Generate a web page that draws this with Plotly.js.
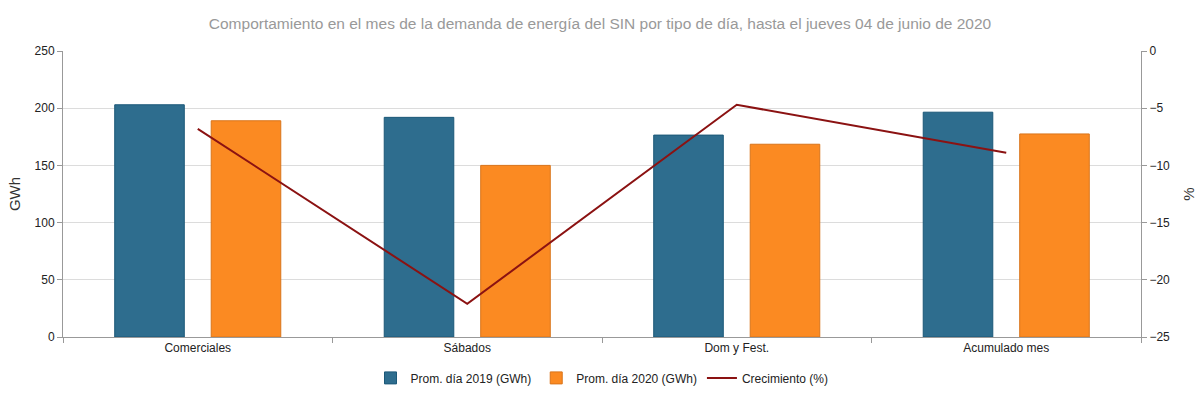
<!DOCTYPE html>
<html>
<head>
<meta charset="utf-8">
<script src="https://cdn.plot.ly/plotly-3.0.1.min.js"></script>
<style>html,body{margin:0;padding:0;background:#fff;}#chart{width:1200px;height:400px;}</style>
</head>
<body>
<div id="chart"></div>
<script>
const categories = ["Comerciales", "Sábados", "Dom y Fest.", "Acumulado mes"];
const prom2019 = [203, 192, 176.5, 196.5];
const prom2020 = [189, 150, 168.5, 177.5];
const crecimiento = [-6.8, -22.1, -4.7, -8.9];
const seriesNames = ["Prom. día 2019 (GWh)", "Prom. día 2020 (GWh)", "Crecimiento (%)"];

const font = "Liberation Sans, Arial, sans-serif";

const traces = [
  {
    type: "bar", x: categories, y: prom2019, name: seriesNames[0],
    marker: {color: "#2e6d8e", line: {color: "#1b5878", width: 1}},
    hoverinfo: "y"
  },
  {
    type: "bar", x: categories, y: prom2020, name: seriesNames[1],
    marker: {color: "#fb8a22", line: {color: "#d9741a", width: 1}},
    hoverinfo: "y"
  },
  {
    type: "scatter", mode: "lines", x: categories, y: crecimiento, name: seriesNames[2],
    yaxis: "y2", line: {color: "#8b1212", width: 2}
  }
];

const layout = {
  width: 1200, height: 400,
  margin: {l: 63, r: 59, t: 51, b: 63, autoexpand: false},
  paper_bgcolor: "#fff", plot_bgcolor: "#fff",
  font: {family: font, size: 12, color: "#333"},
  title: {
    text: "Comportamiento en el mes de la demanda de energía del SIN por tipo de día, hasta el jueves 04 de junio de 2020",
    font: {family: font, size: 15.5, color: "#999"},
    x: 0.5, xanchor: "center", y: 0.94, yanchor: "middle"
  },
  barmode: "group", bargap: 0.284, bargroupgap: 0.279,
  xaxis: {
    type: "category", showgrid: false, showline: true, linecolor: "#999", linewidth: 1,
    ticks: "outside", tickson: "boundaries", ticklen: 5, tickcolor: "#999",
    tickfont: {family: font, size: 12, color: "#222"}, fixedrange: true
  },
  yaxis: {
    range: [0, 250], dtick: 50, showgrid: true, gridcolor: "#dcdcdc", zeroline: false,
    showline: true, linecolor: "#999", ticks: "outside", ticklen: 5, tickcolor: "#999",
    tickfont: {family: font, size: 12, color: "#222"},
    title: {text: "GWh", font: {family: font, size: 15, color: "#333"}, standoff: 10}
  },
  yaxis2: {
    overlaying: "y", side: "right", range: [-25, 0], dtick: 5, showgrid: false, zeroline: false,
    showline: true, linecolor: "#999", ticks: "outside", ticklen: 5, tickcolor: "#999",
    tickfont: {family: font, size: 12, color: "#222"},
    title: {text: "%", font: {family: font, size: 15, color: "#333"}, standoff: 14}
  },
  legend: {
    orientation: "h", x: 0.5, xanchor: "center", y: -0.143, yanchor: "middle",
    font: {family: font, size: 12, color: "#222"}, itemwidth: 30, traceorder: "normal"
  },
  showlegend: true
};

Plotly.newPlot("chart", traces, layout, {displayModeBar: false, staticPlot: true});
</script>
</body>
</html>
